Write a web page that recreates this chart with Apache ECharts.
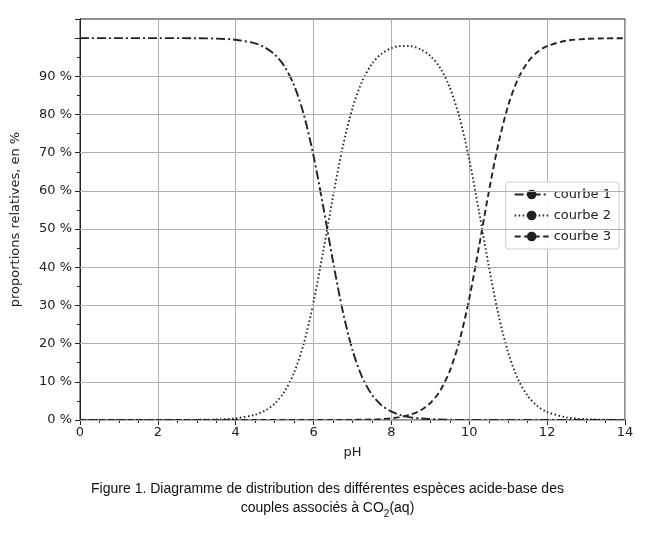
<!DOCTYPE html>
<html><head><meta charset="utf-8">
<script src="https://cdn.jsdelivr.net/npm/echarts@6/dist/echarts.min.js"></script>
<style>html,body{margin:0;padding:0;background:#fff}#c{width:655px;height:535px}</style>
</head><body><div id="c"></div>
<script>
var pH = [0,1,2,3,3.5,4,4.5,4.75,5,5.25,5.5,5.75,6,6.25,6.5,6.75,7,7.25,7.5,7.75,8,8.25,8.5,8.75,9,9.25,9.5,9.75,10,10.25,10.5,10.75,11,11.25,11.5,11.75,12,12.5,13,13.5,14];
var courbe1 = [100,100,99.99,99.96,99.86,99.55,98.61,97.55,95.72,92.64,87.62,79.92,69.12,55.73,41.45,28.47,18.29,11.18,6.61,3.82,2.18,1.23,0.69,0.39,0.21,0.12,0.06,0.03,0.01,0,0,0,0,0,0,0,0,0,0,0,0];
var courbe2 = [0,0,0.01,0.04,0.14,0.45,1.39,2.45,4.28,7.36,12.38,20.08,30.88,44.27,58.54,71.51,81.67,88.75,93.25,95.93,97.36,97.95,97.86,97.06,95.33,92.21,87.06,79.16,68.12,54.59,40.34,27.55,17.61,10.73,6.33,3.66,2.09,0.67,0.21,0.07,0.02];
var courbe3 = [0,0,0,0,0,0,0,0,0,0,0,0,0,0,0.01,0.02,0.04,0.07,0.14,0.25,0.46,0.82,1.45,2.55,4.46,7.67,12.88,20.81,31.87,45.41,59.66,72.45,82.39,89.27,93.67,96.34,97.91,99.33,99.79,99.93,99.98];
var yGrid = [0,10,20,30,40,50,60,70,80,90];
var names = ['courbe 1','courbe 2','courbe 3'];

function pairs(v){return pH.map(function(x,i){return [x,v[i]];});}
var styles = [[9,3,2,3],[1.5,2.5],[6,3.5]];
var all = [courbe1,courbe2,courbe3];
var series = all.map(function(v,i){
  return {name:names[i],type:'line',data:pairs(v),smooth:0.3,symbol:'none',
    lineStyle:{color:'#222',width:1.9,type:styles[i]},itemStyle:{color:'#222'},z:3};
});
series.push({type:'line',data:[],silent:true,
  markLine:{silent:true,symbol:'none',label:{show:false},
    lineStyle:{color:'#b0b0b0',width:1,type:'solid'},
    data:yGrid.map(function(g){return {yAxis:g};})},z:1});

var chart = echarts.init(document.getElementById('c'));
chart.setOption({
  animation:false,
  grid:{left:80,right:30,top:19,bottom:115,show:true,borderColor:'#222',borderWidth:1},
  legend:{orient:'vertical',right:36,top:182,itemWidth:34,itemHeight:12,itemGap:8,
    backgroundColor:'rgba(255,255,255,0.9)',borderColor:'#ccc',borderWidth:1,borderRadius:3,padding:[6,8],
    textStyle:{fontFamily:'DejaVu Sans',fontSize:13,color:'#222'},
    data:names},
  xAxis:{type:'value',min:0,max:14,interval:2,name:'pH',nameLocation:'middle',nameGap:26,
    nameTextStyle:{fontFamily:'DejaVu Sans',fontSize:13,color:'#222'},
    axisLine:{lineStyle:{color:'#222'}},axisTick:{length:5,lineStyle:{color:'#222'}},
    minorTick:{show:true,splitNumber:4,length:3,lineStyle:{color:'#222'}},
    axisLabel:{fontFamily:'DejaVu Sans',fontSize:13,color:'#222',margin:6},
    splitLine:{show:true,lineStyle:{color:'#b0b0b0'}}},
  yAxis:{type:'value',min:0,max:105,interval:10,name:'proportions relatives, en %',nameLocation:'middle',nameGap:58,
    nameTextStyle:{fontFamily:'DejaVu Sans',fontSize:13,color:'#222'},
    axisLine:{show:true,lineStyle:{color:'#222'}},axisTick:{show:true,length:5,lineStyle:{color:'#222'}},
    minorTick:{show:true,splitNumber:2,length:3,lineStyle:{color:'#222'}},
    axisLabel:{fontFamily:'DejaVu Sans',fontSize:13,color:'#222',margin:8,showMaxLabel:false,
      formatter:function(v){return (v>=100)?'':v+' %';}},
    splitLine:{show:false}},
  graphic:[
    {type:'text',left:'center',top:482,style:{text:'Figure 1. Diagramme de distribution des différentes espèces acide-base des',fontFamily:'Liberation Sans',fontSize:14,fill:'#111'}},
    {type:'text',left:'center',top:501,style:{rich:{a:{fontFamily:'Liberation Sans',fontSize:14,fill:'#111'},s:{fontFamily:'Liberation Sans',fontSize:10,fill:'#111',verticalAlign:'bottom',padding:[0,0,-4,0]}},text:'{a|couples associés à CO}{s|2}{a|(aq)}'}}
  ],
  series:series
});
</script></body></html>
